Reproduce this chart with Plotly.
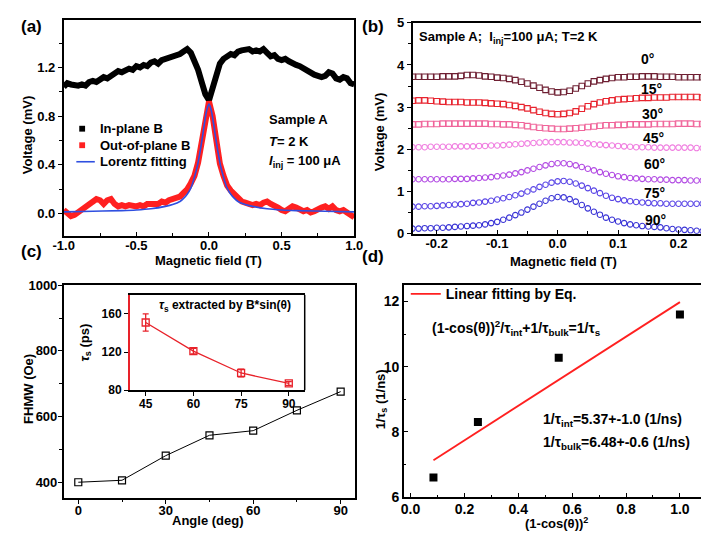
import plotly.graph_objects as go

# ---------------- Panel (a) data ----------------
a_x = [-1.000, -0.975, -0.950, -0.925, -0.900, -0.875, -0.850, -0.825, -0.800, -0.775,
       -0.750, -0.725, -0.700, -0.675, -0.650, -0.625, -0.600, -0.575, -0.550, -0.525,
       -0.500, -0.475, -0.450, -0.425, -0.400, -0.375, -0.350, -0.325, -0.300, -0.275,
       -0.250, -0.225, -0.200, -0.175, -0.150, -0.125, -0.100, -0.075, -0.050, -0.025,
       0.000, 0.025, 0.050, 0.075, 0.100, 0.125, 0.150, 0.175, 0.200, 0.225,
       0.250, 0.275, 0.300, 0.325, 0.350, 0.375, 0.400, 0.425, 0.450, 0.475,
       0.500, 0.525, 0.550, 0.575, 0.600, 0.625, 0.650, 0.675, 0.700, 0.725,
       0.750, 0.775, 0.800, 0.825, 0.850, 0.875, 0.900, 0.925, 0.950, 0.975, 1.000]
a_inplane = [1.04, 1.07, 1.06, 1.05, 1.05, 1.06, 1.05, 1.08, 1.09, 1.08,
             1.10, 1.12, 1.11, 1.13, 1.15, 1.17, 1.16, 1.18, 1.19, 1.18,
             1.21, 1.20, 1.22, 1.21, 1.24, 1.25, 1.23, 1.26, 1.27, 1.27,
             1.29, 1.30, 1.31, 1.33, 1.35, 1.32, 1.26, 1.18, 1.08, 0.98,
             0.93, 1.04, 1.16, 1.23, 1.27, 1.29, 1.31, 1.30, 1.33, 1.34,
             1.34, 1.35, 1.33, 1.34, 1.33, 1.35, 1.32, 1.29, 1.30, 1.27,
             1.26, 1.27, 1.25, 1.23, 1.22, 1.21, 1.19, 1.17, 1.15, 1.14,
             1.13, 1.12, 1.13, 1.16, 1.15, 1.11, 1.10, 1.12, 1.11, 1.07, 1.06]
a_outplane = [0.03, 0.01, -0.02, -0.01, 0.01, 0.03, 0.05, 0.07, 0.09, 0.12,
              0.11, 0.08, 0.11, 0.12, 0.08, 0.06, 0.07, 0.06, 0.07, 0.06,
              0.06, 0.07, 0.06, 0.08, 0.08, 0.09, 0.08, 0.10, 0.09, 0.11,
              0.12, 0.13, 0.14, 0.17, 0.20, 0.25, 0.31, 0.42, 0.58, 0.78,
              0.92, 0.80, 0.58, 0.41, 0.31, 0.23, 0.19, 0.16, 0.13, 0.10,
              0.09, 0.08, 0.07, 0.08, 0.07, 0.09, 0.10, 0.08, 0.07, 0.05,
              0.03, 0.02, 0.04, 0.06, 0.05, 0.03, 0.02, 0.03, 0.01, 0.02,
              0.04, 0.05, 0.06, 0.04, 0.06, 0.03, 0.02, 0.03, 0.01, -0.01, -0.03]
lor_x = [-1.0, -0.8, -0.6, -0.5, -0.4, -0.3, -0.25, -0.2, -0.175, -0.15, -0.125, -0.1,
         -0.08, -0.06, -0.045, -0.03, -0.015, 0.0, 0.015, 0.03, 0.045, 0.06, 0.08,
         0.1, 0.125, 0.15, 0.175, 0.2, 0.25, 0.3, 0.4, 0.5, 0.6, 0.8, 1.0]
lor_y = [0.015, 0.02, 0.025, 0.03, 0.04, 0.06, 0.075, 0.10, 0.125, 0.16, 0.21, 0.30,
         0.39, 0.52, 0.63, 0.75, 0.85, 0.90, 0.85, 0.75, 0.63, 0.52, 0.39,
         0.30, 0.21, 0.16, 0.125, 0.10, 0.075, 0.06, 0.04, 0.03, 0.025, 0.02, 0.015]
a_legend = ["In-plane B", "Out-of-plane B", "Lorentz fitting"]
a_xticks = [-1.0, -0.5, 0.0, 0.5, 1.0]
a_xticktext = ["-1.0", "-0.5", "0.0", "0.5", "1.0"]
a_yticks = [0.0, 0.4, 0.8, 1.2]
a_yticktext = ["0.0", "0.4", "0.8", "1.2"]

# ---------------- Panel (b) data ----------------
b_x = [-0.24, -0.23, -0.22, -0.21, -0.20, -0.19, -0.18, -0.17, -0.16, -0.15,
       -0.14, -0.13, -0.12, -0.11, -0.10, -0.09, -0.08, -0.07, -0.06, -0.05,
       -0.04, -0.03, -0.02, -0.01, 0.00, 0.01, 0.02, 0.03, 0.04, 0.05,
       0.06, 0.07, 0.08, 0.09, 0.10, 0.11, 0.12, 0.13, 0.14, 0.15,
       0.16, 0.17, 0.18, 0.19, 0.20, 0.21, 0.22, 0.23, 0.24]
b_v0 = [3.72, 3.72, 3.72, 3.72, 3.72, 3.73, 3.73, 3.73, 3.74, 3.76,
        3.76, 3.75, 3.73, 3.72, 3.70, 3.69, 3.67, 3.64, 3.60, 3.56,
        3.51, 3.46, 3.41, 3.37, 3.35, 3.36, 3.39, 3.44, 3.50, 3.56,
        3.61, 3.64, 3.67, 3.69, 3.71, 3.71, 3.72, 3.72, 3.73, 3.73,
        3.73, 3.72, 3.72, 3.72, 3.71, 3.71, 3.71, 3.71, 3.71]
b_v15 = [3.15, 3.16, 3.16, 3.15, 3.14, 3.13, 3.12, 3.12, 3.12, 3.11,
         3.11, 3.11, 3.10, 3.09, 3.08, 3.07, 3.05, 3.03, 3.00, 2.97,
         2.93, 2.89, 2.86, 2.84, 2.83, 2.84, 2.86, 2.90, 2.96, 3.02,
         3.07, 3.11, 3.14, 3.16, 3.18, 3.19, 3.20, 3.21, 3.22, 3.22,
         3.23, 3.23, 3.23, 3.24, 3.24, 3.24, 3.24, 3.24, 3.23]
b_v30 = [2.59, 2.59, 2.60, 2.60, 2.60, 2.61, 2.61, 2.61, 2.61, 2.61,
         2.61, 2.61, 2.61, 2.60, 2.60, 2.59, 2.59, 2.58, 2.57, 2.55,
         2.53, 2.51, 2.50, 2.49, 2.48, 2.48, 2.49, 2.50, 2.51, 2.53,
         2.54, 2.56, 2.57, 2.57, 2.58, 2.58, 2.59, 2.59, 2.59, 2.59,
         2.60, 2.60, 2.60, 2.60, 2.61, 2.61, 2.61, 2.60, 2.60]
b_v45 = [2.05, 2.05, 2.05, 2.06, 2.06, 2.06, 2.06, 2.07, 2.07, 2.07,
         2.07, 2.08, 2.08, 2.09, 2.09, 2.10, 2.11, 2.12, 2.13, 2.14,
         2.15, 2.16, 2.17, 2.17, 2.17, 2.17, 2.16, 2.16, 2.15, 2.14,
         2.12, 2.11, 2.10, 2.09, 2.08, 2.07, 2.06, 2.05, 2.05, 2.05,
         2.04, 2.04, 2.04, 2.04, 2.04, 2.04, 2.04, 2.03, 2.03]
b_v60 = [1.29, 1.29, 1.29, 1.29, 1.29, 1.29, 1.29, 1.30, 1.30, 1.30,
         1.31, 1.32, 1.33, 1.34, 1.36, 1.38, 1.40, 1.43, 1.46, 1.50,
         1.54, 1.58, 1.62, 1.65, 1.67, 1.67, 1.65, 1.62, 1.58, 1.54,
         1.50, 1.46, 1.42, 1.39, 1.36, 1.34, 1.32, 1.31, 1.30, 1.29,
         1.29, 1.28, 1.28, 1.27, 1.27, 1.27, 1.26, 1.26, 1.26]
b_v75 = [0.64, 0.64, 0.65, 0.65, 0.66, 0.67, 0.68, 0.69, 0.70, 0.71,
         0.73, 0.74, 0.76, 0.78, 0.81, 0.84, 0.87, 0.91, 0.95, 1.00,
         1.05, 1.11, 1.16, 1.21, 1.24, 1.25, 1.23, 1.19, 1.14, 1.08,
         1.02, 0.96, 0.90, 0.85, 0.82, 0.79, 0.77, 0.75, 0.74, 0.73,
         0.72, 0.72, 0.71, 0.71, 0.71, 0.71, 0.71, 0.71, 0.71]
b_v90 = [0.12, 0.12, 0.13, 0.13, 0.14, 0.14, 0.15, 0.16, 0.17, 0.18,
         0.19, 0.20, 0.22, 0.25, 0.28, 0.33, 0.38, 0.44, 0.50, 0.57,
         0.64, 0.71, 0.78, 0.84, 0.87, 0.86, 0.82, 0.76, 0.68, 0.60,
         0.52, 0.45, 0.38, 0.33, 0.29, 0.25, 0.22, 0.20, 0.18, 0.17,
         0.16, 0.15, 0.13, 0.11, 0.10, 0.09, 0.08, 0.07, 0.06]
b_angles = ["0°", "15°", "30°", "45°", "60°", "75°", "90°"]
b_label_y = [4.15, 3.43, 2.83, 2.26, 1.66, 0.97, 0.32]
b_label_x = [0.134, 0.134, 0.136, 0.138, 0.139, 0.139, 0.142]
b_xticks = [-0.2, -0.1, 0.0, 0.1, 0.2]
b_xticktext = ["-0.2", "-0.1", "0.0", "0.1", "0.2"]

# ---------------- Panel (c) data ----------------
c_angle = [0, 15, 30, 45, 60, 75, 90]
c_fhmw = [400, 406, 481, 543, 557, 619, 676]
c_in_angle = [45, 60, 75, 90]
c_in_tau = [151, 121, 98, 87]
c_in_err = [9, 3, 4, 2]

# ---------------- Panel (d) data ----------------
d_x = [0.085, 0.25, 0.55, 1.0]
d_y = [6.6, 8.3, 10.27, 11.6]
d_fit_x = [0.085, 1.0]
d_fit_y = [7.13, 11.98]
d_xticks = [0.0, 0.2, 0.4, 0.6, 0.8, 1.0]
d_xticktext = ["0.0", "0.2", "0.4", "0.6", "0.8", "1.0"]

FONT = "Liberation Sans, Arial, sans-serif"
W, H = 709, 533
RED = "#ff2020"
BLUE = "#2f4fe0"


def px(x):
    return x / W


def py(y):
    return 1 - y / H


fig = go.Figure()

# Panel (a)
fig.add_trace(go.Scatter(x=a_x, y=a_inplane, mode="lines", line=dict(color="black", width=6),
                         showlegend=False, xaxis="x", yaxis="y"))
fig.add_trace(go.Scatter(x=a_x, y=a_outplane, mode="lines", line=dict(color=RED, width=6),
                         showlegend=False, xaxis="x", yaxis="y"))
fig.add_trace(go.Scatter(x=lor_x, y=lor_y, mode="lines", line=dict(color=BLUE, width=1.6, shape="spline"),
                         showlegend=False, xaxis="x", yaxis="y"))

# Panel (b)
b_series = [b_v0, b_v15, b_v30, b_v45, b_v60, b_v75, b_v90]
b_colors = ["#6e1f32", "#e8232e", "#f0649a", "#f07ee0", "#b24be3", "#5a46e6", "#3a34d6"]
b_symbols = ["square-open", "square-open", "square-open", "circle-open", "circle-open", "circle-open", "circle-open"]
for vals, col, sym in zip(b_series, b_colors, b_symbols):
    fig.add_trace(go.Scatter(x=b_x, y=vals, mode="markers",
                             marker=dict(symbol=sym, color=col, size=5.5, line=dict(width=1.1, color=col)),
                             showlegend=False, xaxis="x2", yaxis="y2"))

# Panel (c)
fig.add_trace(go.Scatter(x=c_angle, y=c_fhmw, mode="lines+markers",
                         line=dict(color="black", width=1),
                         marker=dict(symbol="square-open", size=7, color="black", line=dict(width=1.2)),
                         showlegend=False, xaxis="x3", yaxis="y3"))
fig.add_trace(go.Scatter(x=c_in_angle, y=c_in_tau, mode="lines+markers",
                         line=dict(color="#e8222a", width=1.3),
                         marker=dict(symbol="square-open", size=7, color="#e8222a", line=dict(width=1.3)),
                         error_y=dict(type="data", array=c_in_err, color="#e8222a", thickness=1.3, width=3),
                         showlegend=False, xaxis="x5", yaxis="y5"))

# Panel (d)
fig.add_trace(go.Scatter(x=d_fit_x, y=d_fit_y, mode="lines", name="Linear fitting by Eq.",
                         line=dict(color=RED, width=1.8), legend="legend2",
                         xaxis="x4", yaxis="y4"))
fig.add_trace(go.Scatter(x=d_x, y=d_y, mode="markers",
                         marker=dict(symbol="square", size=8, color="black"),
                         showlegend=False, xaxis="x4", yaxis="y4"))


def axis(domain, rng, dtick, minor, anchor, tick0=0, size=13, ticks="outside",
         tickvals=None, ticktext=None, standoff=0):
    d = dict(domain=domain, range=rng, dtick=dtick, tick0=tick0, anchor=anchor,
             ticks=ticks, ticklen=4, tickwidth=1.2, tickcolor="black",
             minor=dict(ticks=ticks, ticklen=2.5, dtick=minor, tick0=tick0, tickcolor="black"),
             showline=True, linecolor="black", linewidth=1.5, mirror=True,
             showgrid=False, zeroline=False, ticklabelstandoff=standoff,
             tickfont=dict(family=FONT, size=size, color="black", weight="bold"))
    if tickvals is not None:
        d["tickmode"] = "array"
        d["tickvals"] = tickvals
        d["ticktext"] = ticktext
    return d


layout = dict(
    width=W, height=H, margin=dict(l=0, r=0, t=0, b=0),
    paper_bgcolor="white", plot_bgcolor="white",
    font=dict(family=FONT, color="black", weight="bold"),
    xaxis=axis([px(46), px(345)], [-1, 1], 0.5, 0.25, "y", ticks="inside",
               tickvals=a_xticks, ticktext=a_xticktext, standoff=-3),
    yaxis=axis([py(227), py(5)], [-0.18, 1.59], 0.4, 0.2, "x",
               tickvals=a_yticks, ticktext=a_yticktext),
    xaxis2=axis([px(405), px(706)], [-0.24, 0.244], 0.1, 0.05, "y2", ticks="inside",
                tickvals=b_xticks, ticktext=b_xticktext, standoff=-3),
    yaxis2=axis([py(225), py(8)], [0, 5], 1, 0.5, "x2"),
    xaxis3=axis([px(46), px(346)], [-5, 95], 30, 15, "y3", standoff=-4),
    yaxis3=axis([py(497), py(278)], [352, 1000], 200, 100, "x3", standoff=-2),
    xaxis4=axis([px(396), px(707)], [-0.025, 1.097], 0.2, 0.1, "y4", ticks="inside",
                tickvals=d_xticks, ticktext=d_xticktext, size=14, standoff=-2),
    yaxis4=axis([py(496), py(278)], [6, 12.5], 2, 1, "x4", ticks="inside", size=14),
    xaxis5=axis([px(114), px(294)], [40, 95], 15, 5, "y5", tick0=0, size=12, standoff=-2),
    yaxis5=axis([py(386), py(288)], [80, 180], 40, 20, "x5", size=12),
    legend2=dict(x=px(398), y=py(271), xanchor="left", yanchor="top",
                 bgcolor="rgba(0,0,0,0)", itemwidth=30,
                 font=dict(family=FONT, size=14, color="black", weight="bold")),
)
fig.update_layout(**layout)
fig.update_layout(xaxis5=dict(minor=dict(ticks="")),
                  yaxis5=dict(minor=dict(ticks=""), linecolor="#e8222a", mirror=False))

ann = []


def text(x, y, s, size=13, xanchor="center", angle=0, xref="paper", yref="paper"):
    ann.append(dict(x=x, y=y, text=s, showarrow=False, xanchor=xanchor, yanchor="middle",
                    textangle=angle, xref=xref, yref=yref,
                    font=dict(family=FONT, size=size, color="black", weight="bold")))


# panel labels
text(px(13), py(12), "(a)", 17)
text(px(364), py(12), "(b)", 17)
text(px(13), py(243), "(c)", 17)
text(px(364), py(249), "(d)", 17)

# axis titles
text(px(9), py(123), "Voltage (mV)", 13, angle=-90)
text(px(195), py(253), "Magnetic field (T)", 13)
text(px(371), py(120), "Voltage (mV)", 13, angle=-90)
text(px(560), py(254), "Magnetic field (T)", 13)
text(px(9), py(385), "FHMW (Oe)", 13, angle=-90)
text(px(195), py(520), "Angle (deg)", 13)
text(px(373), py(395), "1/τ<sub>s</sub> (1/ns)", 13, angle=-90)
text(px(553), py(523), "(1-cos(θ))<sup>2</sup>", 13)
text(px(68), py(337), "<i>τ</i><sub>s</sub> (ps)", 13, angle=-90)

# panel (a) legend (key symbols + text)
leg_y = [117, 134, 151]
for lab, ly in zip(a_legend, leg_y):
    text(px(81), py(ly), lab, 13, xanchor="left")
shapes = [
    dict(type="rect", xref="paper", yref="paper", x0=px(62), x1=px(68), y0=py(120), y1=py(114),
         fillcolor="black", line=dict(width=0)),
    dict(type="rect", xref="paper", yref="paper", x0=px(62), x1=px(68), y0=py(137), y1=py(131),
         fillcolor=RED, line=dict(width=0)),
    dict(type="line", xref="paper", yref="paper", x0=px(59), x1=px(78), y0=py(151), y1=py(151),
         line=dict(color=BLUE, width=1.6)),
    dict(type="line", xref="paper", yref="paper", x0=px(294), x1=px(294), y0=py(386), y1=py(288),
         line=dict(color="black", width=1.5)),
]

# panel (a) texts
text(px(255), py(108), "Sample A", 13, xanchor="left")
text(px(255), py(130), "<i>T</i>= 2 K", 13, xanchor="left")
text(px(255), py(151), "<i>I</i><sub>inj</sub> = 100 μA", 13, xanchor="left")

# panel (b) texts
text(px(410), py(23), "Sample A;  I<sub>inj</sub>=100 μA; T=2 K", 13, xanchor="left")
for lab, lx, ly in zip(b_angles, b_label_x, b_label_y):
    text(lx, ly, lab, 14, xanchor="left", xref="x2", yref="y2")

# inset title
text(px(212), py(299), "<i>τ</i><sub>s</sub> extracted by B*sin(θ)", 12)

# panel (d) texts
text(px(423), py(322), "(1-cos(θ))<sup>2</sup>/τ<sub>int</sub>+1/τ<sub>bulk</sub>=1/τ<sub>s</sub>", 14, xanchor="left")
text(px(537), py(417), "1/τ<sub>int</sub>=5.37+-1.0 (1/ns)", 14, xanchor="left")
text(px(537), py(440), "1/τ<sub>bulk</sub>=6.48+-0.6 (1/ns)", 14, xanchor="left")

fig.update_layout(annotations=ann, shapes=shapes)

fig.write_html("out.html")
